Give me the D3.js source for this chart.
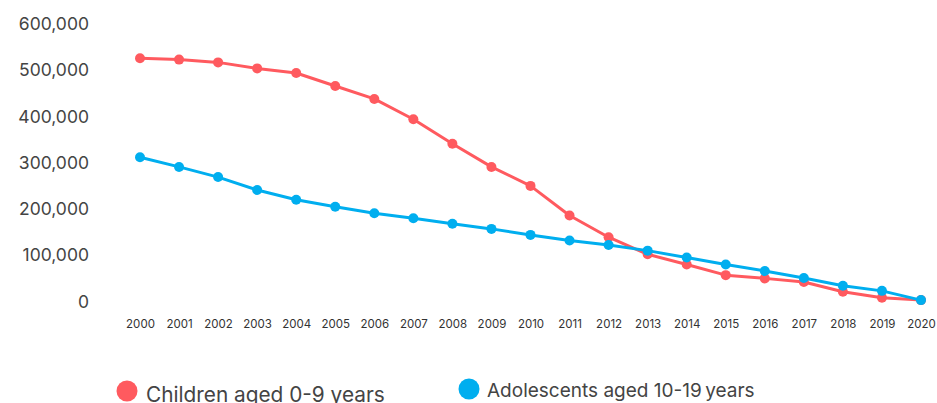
<!DOCTYPE html>
<html>
<head>
<meta charset="utf-8">
<script src="https://cdn.jsdelivr.net/npm/d3@7"></script>
<style>
  html, body { margin: 0; padding: 0; background: #fff; }
  svg { display: block; font-family: Inter, "Noto Sans", sans-serif; }
</style>
</head>
<body>
<svg id="chart" width="937" height="403"></svg>
<script>
// Annual counts by age group
const years = [2000, 2001, 2002, 2003, 2004, 2005, 2006, 2007, 2008, 2009, 2010,
               2011, 2012, 2013, 2014, 2015, 2016, 2017, 2018, 2019, 2020];
const children = [526000, 523000, 517000, 504000, 494000, 466000, 438000, 394000, 341000, 291000, 250000,
                  186000, 139000, 102000, 80000, 57000, 50000, 42000, 21000, 8000, 3000];
const adolescents = [312000, 291000, 269000, 241000, 220000, 205000, 191000, 180000, 168000, 157000, 144000,
                     132000, 122000, 110000, 95000, 80000, 66000, 51000, 34000, 23000, 3000];
const yTicks = [0, 100000, 200000, 300000, 400000, 500000, 600000];
const seriesNames = ["Children aged 0-9 years", "Adolescents aged 10-19\u2009years"];
const seriesColors = ["#ff5a5f", "#00aeef"];

const svg = d3.select("#chart");

const x = d3.scalePoint().domain(years).range([140, 921]);
const y = d3.scaleLinear().domain([0, 600000]).range([301.5, 24]);

// Y axis labels only, no line or ticks
const yAxis = svg.append("g")
  .attr("transform", "translate(89,0)")
  .call(d3.axisLeft(y).tickValues(yTicks).tickSize(0).tickPadding(0)
    .tickFormat(d3.format(",")));
yAxis.select(".domain").remove();
yAxis.selectAll("text")
  .attr("font-family", "Inter, sans-serif")
  .attr("font-size", 17.5)
  .attr("fill", "#444");

// X axis year labels
const xAxis = svg.append("g")
  .attr("transform", "translate(0,320)")
  .call(d3.axisBottom(x).tickSize(0).tickPadding(0));
xAxis.select(".domain").remove();
xAxis.selectAll("text")
  .attr("font-family", "Inter, sans-serif")
  .attr("font-size", 11.5)
  .attr("fill", "#333");

const series = [
  { name: seriesNames[0], color: seriesColors[0], values: children },
  { name: seriesNames[1], color: seriesColors[1], values: adolescents }
];

const line = d3.line()
  .x((d, i) => x(years[i]))
  .y(d => y(d));

series.forEach(s => {
  const g = svg.append("g");
  g.append("path")
    .datum(s.values)
    .attr("d", line)
    .attr("fill", "none")
    .attr("stroke", s.color)
    .attr("stroke-width", 3)
    .attr("stroke-linejoin", "round");
  g.selectAll("circle")
    .data(s.values)
    .join("circle")
    .attr("cx", (d, i) => x(years[i]))
    .attr("cy", d => y(d))
    .attr("r", 5)
    .attr("fill", s.color);
});

// Legend
const legendPos = [
  { cx: 127, cy: 391, tx: 146, ty: 402, size: 20.8 },
  { cx: 469, cy: 389, tx: 487, ty: 397, size: 19 }
];
series.forEach((s, i) => {
  const p = legendPos[i];
  svg.append("circle").attr("cx", p.cx).attr("cy", p.cy).attr("r", 10.5).attr("fill", s.color);
  svg.append("text")
    .attr("x", p.tx).attr("y", p.ty)
    .attr("font-family", "Inter, sans-serif")
    .attr("font-size", p.size)
    .attr("fill", "#444")
    .text(s.name);
});
</script>
</body>
</html>
